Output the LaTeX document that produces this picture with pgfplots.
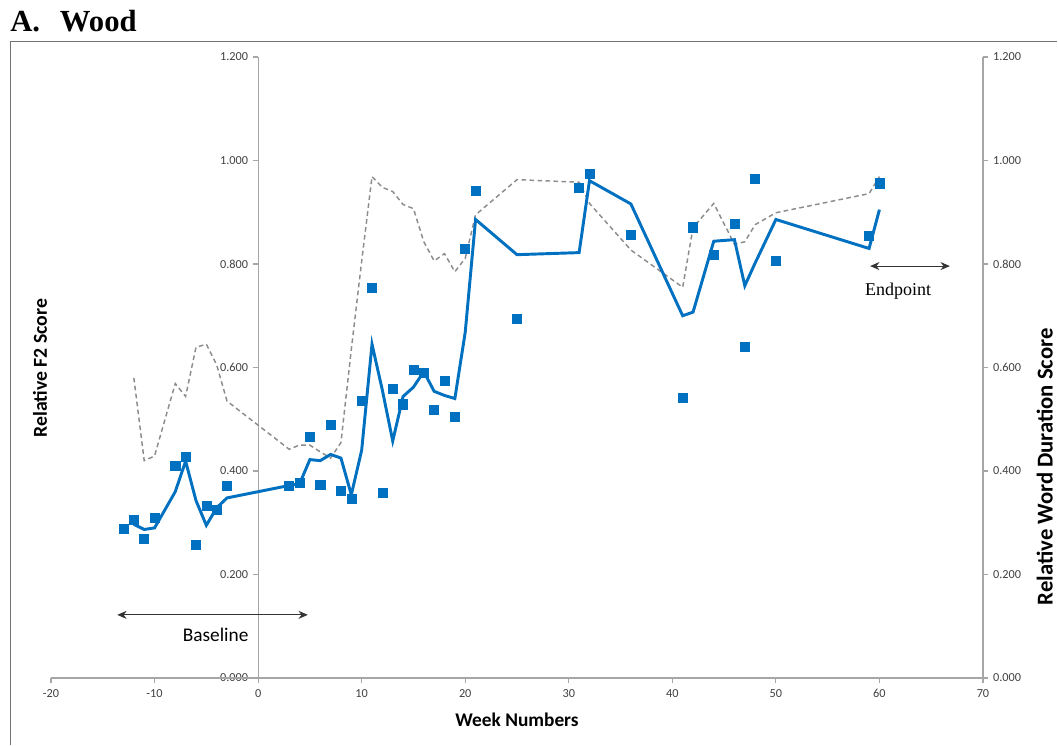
\documentclass[border=0pt]{standalone}
\usepackage{pgfplots}
\pgfplotsset{compat=1.18}
\usepackage{fontspec}
\setmainfont{Carlito}
\newfontfamily\timesf{Liberation Serif}
\usetikzlibrary{arrows.meta}
\definecolor{xlblue}{HTML}{0070C0}
\definecolor{dashgray}{HTML}{8C8C8C}
\definecolor{axgray}{HTML}{A6A6A6}
\definecolor{ticktext}{HTML}{404040}

\pgfplotstableread{
w f
-13 0.289
-12 0.305
-11 0.269
-10 0.310
-8 0.410
-7 0.428
-6 0.257
-5 0.333
-4 0.325
-3 0.371
3 0.372
4 0.378
5 0.466
6 0.374
7 0.489
8 0.361
9 0.346
10 0.535
11 0.754
12 0.358
13 0.558
14 0.529
15 0.595
16 0.589
17 0.518
18 0.574
19 0.505
20 0.830
21 0.941
25 0.695
31 0.948
32 0.974
36 0.857
41 0.542
42 0.871
44 0.817
46 0.877
47 0.640
48 0.965
50 0.806
59 0.854
60 0.956
}\squares

\pgfplotstableread{
w f
-12 0.297
-11 0.287
-10 0.290
-8 0.360
-7 0.419
-6 0.343
-5 0.295
-4 0.329
-3 0.348
3 0.372
4 0.375
5 0.422
6 0.420
7 0.432
8 0.425
9 0.354
10 0.440
11 0.645
12 0.556
13 0.458
14 0.544
15 0.562
16 0.592
17 0.554
18 0.546
19 0.540
20 0.668
21 0.886
25 0.818
31 0.822
32 0.961
36 0.916
41 0.700
42 0.707
44 0.844
46 0.847
47 0.758
48 0.802
50 0.886
59 0.830
60 0.905
}\fline

\pgfplotstableread{
w d
-12 0.580
-11 0.420
-10 0.429
-8 0.569
-7 0.544
-6 0.639
-5 0.645
-4 0.605
-3 0.535
3 0.442
4 0.450
5 0.450
6 0.437
7 0.425
8 0.455
9 0.635
10 0.805
11 0.969
12 0.948
13 0.940
14 0.915
15 0.907
16 0.843
17 0.806
18 0.820
19 0.785
20 0.811
21 0.895
25 0.963
31 0.958
32 0.917
36 0.827
41 0.755
42 0.870
44 0.917
46 0.838
47 0.843
48 0.876
50 0.899
59 0.936
60 0.969
}\dline

\pgfplotsset{
  every non boxed x axis/.style={},
  every non boxed y axis/.style={},
  /pgf/number format/assume math mode=true,
}

\begin{document}
\begin{tikzpicture}
% 1 px of the reference = 0.75pt ; picture 1058 x 746 px
\path (0pt,0pt) rectangle (793.5pt,559.5pt);
\draw[black!55, line width=0.75pt] (7.5pt,0.4pt) -- (7.5pt,528pt) -- (793.1pt,528pt);
\node[anchor=base west, font=\timesf\bfseries\fontsize{23}{26}\selectfont, inner sep=0] at (7.5pt,535.5pt) {A.\hspace{0.65em}Wood};

% left y axis at x = 0
\begin{axis}[
  scale only axis, width=407.75pt, height=465.75pt,
  at={(193.6pt,51pt)}, anchor=south west,
  xmin=0, xmax=70, ymin=0, ymax=1.2, enlargelimits=false,
  axis y line=left, axis x line=none,
  axis line style={axgray, line width=0.8pt, -},
  ytick={0,0.2,...,1.2},
  tick align=outside, major tick length=4pt,
  y tick style={axgray, line width=0.8pt},
  yticklabel style={font=\fontsize{9.2}{10}\selectfont, text=ticktext,
    /pgf/number format/.cd, fixed, fixed zerofill, precision=3},
]
\end{axis}

\begin{axis}[
  scale only axis, width=699pt, height=465.75pt,
  at={(38.25pt,51pt)}, anchor=south west,
  xmin=-20, xmax=70, ymin=0, ymax=1.2, enlargelimits=false,
  axis x line=bottom, axis y line=right,
  axis line style={axgray, line width=0.8pt, -},
  xtick={-20,-10,...,70},
  ytick={0,0.2,...,1.2},
  tick align=outside, major tick length=4pt,
  tick style={axgray, line width=0.8pt},
  xticklabel style={font=\fontsize{9.2}{10}\selectfont, text=ticktext, yshift=-1pt},
  yticklabel style={font=\fontsize{9.2}{10}\selectfont, text=ticktext,
    /pgf/number format/.cd, fixed, fixed zerofill, precision=3},
  clip=false,
]
\addplot[dashgray, line width=1.1pt, dash pattern=on 3.5pt off 2.5pt] table[x=w,y=d] {\dline};
\addplot[xlblue, line width=2.2pt, line join=miter] table[x=w,y=f] {\fline};
\addplot[only marks, mark=square*, mark size=3.4pt, color=xlblue, mark options={fill=xlblue, draw=xlblue}] table[x=w,y=f] {\squares};

\draw[{Stealth[length=7pt,width=6pt]}-{Stealth[length=7pt,width=6pt]}, black!80, line width=0.7pt]
  (axis cs:-13.6,0.122) -- (axis cs:4.8,0.122);
\node[font=\fontsize{14.5}{16}\selectfont] at (axis cs:-4.1,0.084) {Baseline};
\draw[{Stealth[length=7pt,width=6pt]}-{Stealth[length=7pt,width=6pt]}, black!80, line width=0.7pt]
  (axis cs:59.1,0.796) -- (axis cs:66.8,0.796);
\node[font=\timesf\fontsize{13.5}{15}\selectfont] at (axis cs:61.8,0.748) {Endpoint};
\end{axis}

\node[rotate=90, font=\bfseries\fontsize{14.8}{16}\selectfont] at (30pt,283.5pt) {Relative F2 Score};
\node[rotate=90, font=\bfseries\fontsize{17}{18}\selectfont] at (783.5pt,209.5pt) {Relative Word Duration Score};
\node[font=\bfseries\fontsize{14.5}{16}\selectfont] at (387.75pt,19.5pt) {Week Numbers};
\end{tikzpicture}
\end{document}
